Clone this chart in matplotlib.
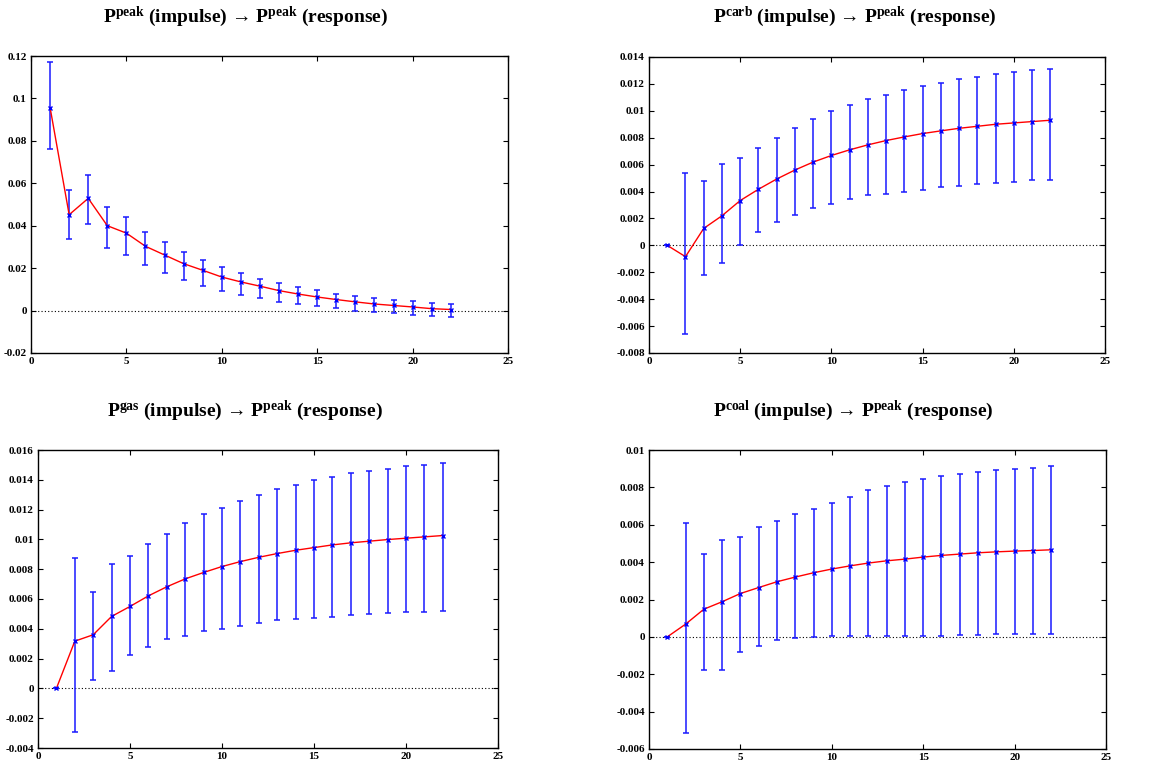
import numpy as np
import matplotlib
matplotlib.use('Agg')
import matplotlib.pyplot as plt

plt.rcParams['font.family'] = ['Liberation Serif', 'DejaVu Serif']
plt.rcParams['font.weight'] = 'bold'
plt.rcParams['mathtext.fontset'] = 'custom'
plt.rcParams['mathtext.rm'] = 'Liberation Serif:bold'
plt.rcParams['mathtext.default'] = 'rm'

steps = np.arange(1, 23)

# P_peak -> P_peak
peak_mid = [0.0957, 0.0452, 0.0529, 0.0400, 0.0365, 0.0303, 0.0262, 0.0221, 0.0190, 0.0158, 0.0135,
            0.0115, 0.0094, 0.0078, 0.0064, 0.0052, 0.0041, 0.0031, 0.0024, 0.0017, 0.0009, 0.0005]
peak_hi = [0.1173, 0.0566, 0.0637, 0.0488, 0.0441, 0.0370, 0.0322, 0.0275, 0.0238, 0.0204, 0.0176,
           0.0151, 0.0129, 0.0113, 0.0096, 0.0080, 0.0069, 0.0060, 0.0050, 0.0045, 0.0038, 0.0033]
peak_lo = [0.0761, 0.0337, 0.0408, 0.0295, 0.0264, 0.0213, 0.0177, 0.0144, 0.0118, 0.0093, 0.0075,
           0.0058, 0.0042, 0.0031, 0.0022, 0.0011, 0.0000, -0.0006, -0.0013, -0.0019, -0.0024, -0.0028]

# P_carb -> P_peak
carb_mid = [0.0, -0.00084, 0.00126, 0.0022, 0.00333, 0.00417, 0.00493, 0.0056, 0.00619, 0.00668, 0.0071,
            0.00747, 0.00779, 0.00806, 0.00831, 0.00851, 0.0087, 0.00885, 0.009, 0.0091, 0.0092, 0.0093]
carb_hi = [0.0, 0.0054, 0.0048, 0.00607, 0.00651, 0.0072, 0.008, 0.00876, 0.00937, 0.00996, 0.01046,
           0.01085, 0.01115, 0.01152, 0.01184, 0.01206, 0.01235, 0.01253, 0.01275, 0.01287, 0.01302, 0.01312]
carb_lo = [0.0, -0.00656, -0.00217, -0.00133, 0.0, 0.00096, 0.0017, 0.00229, 0.00276, 0.0031, 0.00345,
           0.00375, 0.00384, 0.00395, 0.00414, 0.00432, 0.00444, 0.00456, 0.00466, 0.00473, 0.00483, 0.00488]

# P_gas -> P_peak
gas_mid = [0.0, 0.00317, 0.0036, 0.00483, 0.0055, 0.00621, 0.00682, 0.00735, 0.00778, 0.00818, 0.00851,
           0.0088, 0.00905, 0.00927, 0.00945, 0.00963, 0.00977, 0.00988, 0.00999, 0.01008, 0.01017, 0.01026]
gas_hi = [0.0, 0.00878, 0.00646, 0.00836, 0.00887, 0.00968, 0.01039, 0.01108, 0.01169, 0.01209, 0.01256,
          0.0130, 0.01336, 0.01368, 0.01397, 0.01421, 0.01444, 0.01462, 0.01475, 0.0149, 0.01502, 0.01511]
gas_lo = [0.0, -0.0029, 0.00058, 0.00116, 0.00221, 0.00275, 0.00331, 0.00355, 0.00382, 0.0040, 0.00418,
          0.0044, 0.00458, 0.00465, 0.00472, 0.0048, 0.00492, 0.00498, 0.00505, 0.0051, 0.00512, 0.00518]

# P_coal -> P_peak
coal_mid = [0.0, 0.00068, 0.00148, 0.00188, 0.00232, 0.00264, 0.00295, 0.0032, 0.00343, 0.00363, 0.0038,
            0.00395, 0.00407, 0.00416, 0.00427, 0.00436, 0.00443, 0.0045, 0.00455, 0.00459, 0.00462, 0.00466]
coal_hi = [0.0, 0.00609, 0.00443, 0.0052, 0.00532, 0.00586, 0.00621, 0.00655, 0.00686, 0.00714, 0.0075,
           0.00784, 0.00807, 0.00829, 0.00845, 0.00859, 0.00871, 0.00884, 0.00891, 0.00898, 0.00904, 0.00912]
coal_lo = [0.0, -0.00516, -0.00177, -0.00179, -0.00082, -0.00048, -0.00018, -0.00005, -0.00002, 0.00005, 0.00007,
           0.00004, 0.00004, 0.00004, 0.00005, 0.00007, 0.00009, 0.00011, 0.00013, 0.00014, 0.00016, 0.00016]

panels = [
    ('peak', peak_mid, peak_lo, peak_hi, (-0.02, 0.12), 0.02, [31, 56, 508, 353], (245, 17)),
    ('carb', carb_mid, carb_lo, carb_hi, (-0.008, 0.014), 0.002, [649, 57, 1105, 353], (855, 17)),
    ('gas', gas_mid, gas_lo, gas_hi, (-0.004, 0.016), 0.002, [38, 450, 498, 748], (245, 411)),
    ('coal', coal_mid, coal_lo, coal_hi, (-0.006, 0.01), 0.002, [649, 450, 1106, 749], (853, 411)),
]

W, H = 1153, 765
fig = plt.figure(figsize=(W / 100, H / 100), dpi=100)

for name, mid, lo, hi, ylim, ystep, box, tpos in panels:
    l, t, r, b = box
    ax = fig.add_axes([l / W, 1 - b / H, (r - l) / W, (b - t) / H])
    mid = np.array(mid)
    err = [mid - np.array(lo), np.array(hi) - mid]
    ax.axhline(0, color='black', lw=0.8, ls=(0, (1, 2)), zorder=1)
    ax.errorbar(steps, mid, yerr=err, fmt='none', ecolor='#1a1aff', elinewidth=1.1,
                capsize=2, capthick=1.1, zorder=2)
    ax.plot(steps, mid, color='red', lw=1.0, zorder=3)
    ax.plot(steps, mid, ls='none', marker='x', color='#0000ff', ms=3.5, mew=1.0, zorder=4)
    ax.set_xlim(0, 25)
    ax.set_ylim(*ylim)
    ax.set_xticks(np.arange(0, 26, 5))
    ax.set_yticks(np.arange(ylim[0], ylim[1] + ystep / 2, ystep))
    ax.set_yticklabels(['%g' % round(v, 4) for v in ax.get_yticks()])
    ax.tick_params(direction='in', top=True, right=True, length=3.5, width=0.8,
                   labelsize=8, pad=3)
    for lab in ax.get_xticklabels() + ax.get_yticklabels():
        lab.set_fontweight('bold')
    for s in ax.spines.values():
        s.set_linewidth(1.0)
    fig.text(tpos[0] / W, 1 - tpos[1] / H,
             r'P$^{\mathrm{%s}}$ (impulse) → P$^{\mathrm{peak}}$ (response)' % name,
             ha='center', va='center', fontsize=14, fontweight='bold')

fig.savefig('out.png', dpi=100)
